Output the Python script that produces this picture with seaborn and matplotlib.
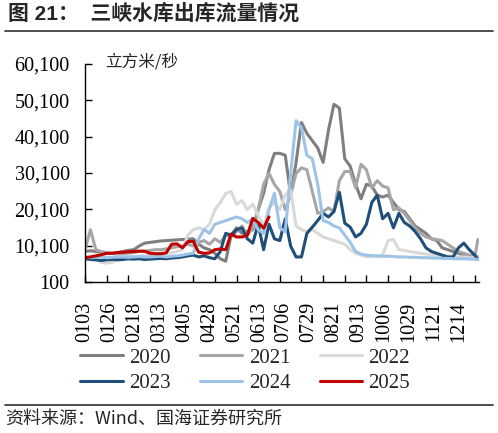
import pandas as pd
import seaborn as sns
import matplotlib.pyplot as plt
from matplotlib.lines import Line2D

# jours depuis le 3 janvier, un point tous les 5 jours
days = list(range(0, 361, 5)) + [363]
days_2025 = list(range(0, 171, 5))

flow_2020 = [8500, 8700, 8500, 8300, 8000, 8000, 8200, 8500, 8800, 9000,
             10000, 10800, 11000, 11200, 11400, 11500, 11600, 11700, 11800, 11900,
             12000, 10500, 9500, 9000, 8000, 6500, 5800, 13000, 15000, 13500,
             14000, 14500, 20000, 24500, 31000, 35500, 35500, 35000, 24000, 33000,
             44000, 41000, 39000, 37000, 33000, 42000, 49000, 48000, 34000, 32000,
             27000, 23000, 27000, 26500, 24000, 23500, 24000, 22000, 20000, 19500,
             17500, 15500, 14500, 13500, 12000, 11500, 9500, 9000, 8500, 8000,
             7500, 7300, 7200, 7000]
flow_2021 = [9000, 14500, 9000, 8500, 8200, 8000, 7800, 7800, 8000, 8200,
             8500, 8500, 8800, 9000, 9000, 9200, 9500, 9800, 10000, 10500,
             10000, 11000, 11500, 10500, 12000, 11000, 13000, 12500, 14000, 15500,
             13000, 15000, 20000, 27000, 30000, 27000, 25000, 20000, 24000, 30000,
             31500, 31000, 25000, 19000, 19500, 20500, 19500, 28000, 30500, 30500,
             26000, 32500, 31000, 26000, 28000, 26500, 26000, 20000, 20500, 19000,
             17000, 15000, 13500, 12500, 12000, 11800, 11500, 10500, 9500, 8500,
             8000, 7500, 6800, 11800]
flow_2022 = [7000, 6800, 6500, 5500, 5300, 5500, 6500, 7000, 7200, 7000,
             7200, 7500, 7300, 7500, 7800, 8000, 8200, 8500, 9000, 13000,
             14500, 15000, 14500, 16000, 20000, 22000, 24500, 25000, 21500, 22500,
             20000, 21500, 18500, 15500, 20500, 22000, 20000, 24000, 25500, 15500,
             14500, 14000, 14500, 13500, 12500, 12000, 11500, 11000, 10500, 9000,
             8000, 7500, 7000, 7200, 7000, 7500, 11500, 11800, 9000, 8800,
             8500, 8200, 8000, 7800, 7500, 7500, 7300, 7200, 7000, 7000,
             7000, 6800, 6800, 6800]
flow_2023 = [6500, 6300, 6200, 6000, 6200, 6300, 6200, 6300, 6500, 6400,
             6500, 6300, 6400, 6500, 6600, 6500, 6700, 6800, 7000, 7300,
             7500, 7000, 7300, 6800, 6500, 8500, 13500, 13000, 14500, 15000,
             12000, 10800, 16000, 9000, 16000, 12000, 11500, 17500, 10000, 7000,
             7000, 13500, 15200, 17000, 19000, 18000, 19500, 24800, 16300, 15200,
             12500, 13500, 16000, 22000, 24000, 17500, 19000, 15000, 19000, 16500,
             15500, 14000, 12000, 9500, 8500, 8000, 7500, 7000, 7000, 9500,
             10800, 9000, 7500, 6300]
flow_2024 = [7000, 6800, 6900, 7000, 6800, 6900, 7000, 7000, 6900, 7000,
             7100, 7000, 7000, 7100, 7200, 7000, 7200, 7300, 7500, 7800,
             8000, 12000, 14500, 13500, 16000, 16500, 17000, 17500, 18000, 17500,
             16500, 17500, 14500, 13500, 20000, 24500, 15000, 14000, 30000, 44500,
             42500, 35000, 34000, 27000, 17000, 16500, 15500, 15000, 13000, 11000,
             8500, 7800, 7500, 7400, 7300, 7200, 7200, 7100, 7000, 7000,
             6900, 6900, 6800, 6800, 6700, 6700, 6600, 6600, 6500, 6500,
             6500, 6400, 6400, 6300]
flow_2025 = [6800, 7000, 7300, 7600, 8000, 8000, 8200, 8300, 8400, 8500,
             8600, 8600, 8000, 7900, 7900, 8100, 10500, 10600, 9500, 11200,
             11300, 8300, 8000, 8100, 9000, 9200, 9000, 13300, 12500, 12500,
             13000, 17600, 16500, 14900, 18000]

years = ['2020', '2021', '2022', '2023', '2024', '2025']
colors = ['#7f7f7f', '#a6a6a6', '#d9d9d9', '#1f4e79', '#9dc3e6', '#c00000']
x_tick_labels = ['0103', '0126', '0218', '0313', '0405', '0428', '0521', '0613',
                 '0706', '0729', '0821', '0913', '1006', '1029', '1121', '1214']
y_ticks = [100, 10100, 20100, 30100, 40100, 50100, 60100]
y_tick_labels = ['100', '10,100', '20,100', '30,100', '40,100', '50,100', '60,100']

series = [flow_2020, flow_2021, flow_2022, flow_2023, flow_2024, flow_2025]
frames = []
for yr, vals in zip(years, series):
    d = days_2025 if yr == '2025' else days
    frames.append(pd.DataFrame({'day': d, 'flow': vals, 'year': yr}))
df = pd.concat(frames, ignore_index=True)

sns.set_style('ticks')
plt.rcParams['font.family'] = ['Liberation Serif', 'Noto Sans CJK SC']
cjk = ['Noto Sans CJK SC', 'DejaVu Sans']

fig = plt.figure(figsize=(4.98, 4.33), dpi=100)
ax = fig.add_axes([0.1707, 0.3487, 0.7911, 0.5035])
sns.lineplot(data=df, x='day', y='flow', hue='year', palette=dict(zip(years, colors)),
             linewidth=2.2, estimator=None, legend=False, ax=ax)

ax.set_xlim(0, 364)
ax.set_ylim(100, 60100)
ax.set_xlabel('')
ax.set_ylabel('')
ax.set_yticks(y_ticks, y_tick_labels)
ax.xaxis.remove_overlapping_locs = False
ax.set_xticks(list(range(0, 361, 20)), [''] * 19)
ax.set_xticks(list(range(0, 346, 23)), x_tick_labels, minor=True)
ax.tick_params(axis='y', direction='in', length=5, width=1, pad=11,
               labelsize=14.5, colors='black')
ax.tick_params(axis='x', which='major', direction='in', length=5, width=1, colors='black')
ax.tick_params(axis='x', which='minor', length=0, pad=14, labelsize=14.5,
               labelrotation=90, labelcolor='black')
for s in ['top', 'right']:
    ax.spines[s].set_visible(False)
for s in ['left', 'bottom']:
    ax.spines[s].set_color('black')
    ax.spines[s].set_linewidth(1)

handles = ax.get_lines()[:6]
order = [0, 3, 1, 4, 2, 5]
ax.legend([handles[i] for i in order], [years[i] for i in order], ncol=3,
          loc='upper left', bbox_to_anchor=(80 / 498, 1 - 348 / 433),
          bbox_transform=fig.transFigure, frameon=False, fontsize=15,
          handlelength=2.05, handletextpad=0.3, columnspacing=1.4,
          labelspacing=0.3, borderpad=0, borderaxespad=0)

fig.text(8 / 498, 1 - 14 / 433, '图 21：  三峡水库出库流量情况', fontsize=15,
         fontweight='bold', family=['Liberation Sans', 'Noto Sans CJK SC'], va='center')
fig.add_artist(Line2D([5 / 498, 493 / 498], [1 - 31 / 433] * 2, color='#404040',
                      lw=1.3, transform=fig.transFigure))
fig.text(105 / 498, 1 - 62 / 433, '立方米/秒', fontsize=12, family=cjk, va='center')
fig.add_artist(Line2D([5 / 498, 493 / 498], [1 - 405 / 433] * 2, color='#404040',
                      lw=1.3, transform=fig.transFigure))
fig.text(5 / 498, 1 - 419 / 433, '资料来源：Wind、国海证券研究所', fontsize=13,
         family=cjk, va='center')

fig.savefig('out.png', dpi=100)
